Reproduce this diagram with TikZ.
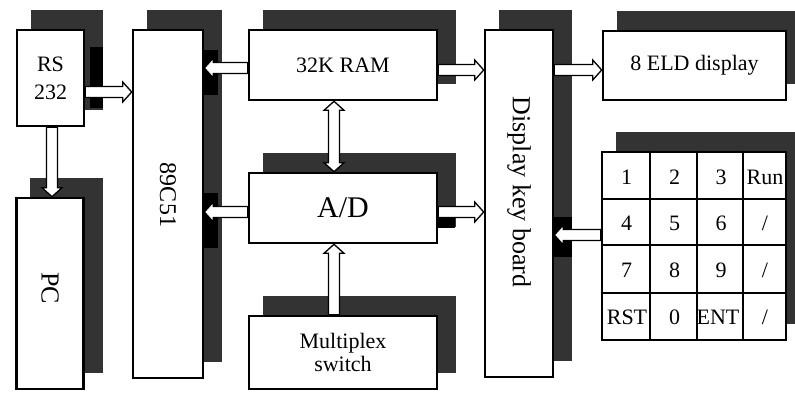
\documentclass[tikz,border=0pt]{standalone}
\usepackage{fontspec}
\setmainfont{Liberation Serif}
\usetikzlibrary{calc}
\definecolor{shadowgray}{HTML}{333333}
\pgfdeclarelayer{shad}
\pgfdeclarelayer{mid}
\pgfsetlayers{shad,mid,main}
\newcommand\blkarrow[2]{%
  \path (#1) coordinate (baA) (#2) coordinate (baB);
  \path ($(baB)!9pt!(baA)$) coordinate (baC);
  \draw[blockarrow] ($(baA)!5.5pt!90:(baB)$) -- ($(baC)!5.5pt!-90:(baA)$) -- ($(baC)!10pt!-90:(baA)$) -- (baB)
    -- ($(baC)!10pt!90:(baA)$) -- ($(baC)!5.5pt!90:(baA)$) -- ($(baA)!5.5pt!-90:(baB)$) -- cycle;}
\newcommand\blkarrowboth[2]{%
  \path (#1) coordinate (baA) (#2) coordinate (baB);
  \path ($(baB)!9pt!(baA)$) coordinate (baC) ($(baA)!9pt!(baB)$) coordinate (baD);
  \draw[blockarrow] (baA) -- ($(baD)!10pt!90:(baB)$) -- ($(baD)!5.5pt!90:(baB)$) -- ($(baC)!5.5pt!-90:(baA)$)
    -- ($(baC)!10pt!-90:(baA)$) -- (baB) -- ($(baC)!10pt!90:(baA)$) -- ($(baC)!5.5pt!90:(baA)$)
    -- ($(baD)!5.5pt!-90:(baB)$) -- ($(baD)!10pt!-90:(baB)$) -- cycle;}
\begin{document}
\begin{tikzpicture}[x=1pt,y=-1pt,
  font=\fontsize{22}{26}\selectfont,
  box/.style={draw, fill=white, line width=2.6pt, inner sep=0pt, align=center},
  blockarrow/.style={draw, fill=white, line width=1.3pt, line join=miter},
  keyline/.style={line width=2.2pt},
  keytext/.style={inner sep=0pt, font=\fontsize{22}{26}\selectfont}]
\useasboundingbox (0,0) rectangle (795,393);

% boxes
\node[box, minimum width=67pt, minimum height=96pt, font=\fontsize{22}{28}\selectfont] (rs) at (50.5,78) {RS\\232};
\node[box, minimum width=67pt, minimum height=191pt] (pc) at (50,293.5) {};
\node[rotate=-90, font=\fontsize{26}{30}\selectfont] (pct) at (50,288) {PC};
\node[box, minimum width=70pt, minimum height=348pt] (cpu) at (168,204) {};
\node[rotate=-90, font=\fontsize{24}{28}\selectfont] (cput) at (168,195) {89C51};
\node[box, minimum width=188pt, minimum height=70pt] (ram) at (343,65) {32K RAM};
\node[box, minimum width=188pt, minimum height=70pt, font=\fontsize{30}{34}\selectfont] (ad) at (343,208) {A/D};
\node[box, minimum width=188pt, minimum height=73pt, font=\fontsize{22}{23}\selectfont] (mux) at (343,352.5) {Multiplex\\switch};
\node[box, minimum width=68pt, minimum height=347pt] (dkb) at (519,203.5) {};
\node[rotate=-90, font=\fontsize{26}{30}\selectfont] (dkbt) at (519,192) {Display key board};
\node[box, minimum width=183pt, minimum height=69pt] (eld) at (694.5,65.5) {8 ELD display};
\node[box, minimum width=184pt, minimum height=188pt] (keys) at (694,246) {};

% keypad grid
\foreach \dx in {49,96,142}
  \draw[keyline] ($(keys.north west)+(\dx,0)$) -- ($(keys.south west)+(\dx,0)$);
\foreach \dy in {48,94,142}
  \draw[keyline] ($(keys.north west)+(0,\dy)$) -- ($(keys.north east)+(0,\dy)$);
\node[keytext] (k1) at (626.5,177) {1};
\node[keytext] (k2) at (674.5,177) {2};
\node[keytext] (k3) at (721,177) {3};
\node[keytext] (k4) at (765,177) {Run};
\node[keytext] (k5) at (626.5,223) {4};
\node[keytext] (k6) at (674.5,223) {5};
\node[keytext] (k7) at (721,223) {6};
\node[keytext] (k8) at (765,223) {/};
\node[keytext] (k9) at (626.5,270) {7};
\node[keytext] (k10) at (674.5,270) {8};
\node[keytext] (k11) at (721,270) {9};
\node[keytext] (k12) at (765,270) {/};
\node[keytext] (k13) at (627,317) {RST};
\node[keytext] (k14) at (674.5,317) {0};
\node[keytext] (k15) at (718,317) {ENT};
\node[keytext] (k16) at (765,317) {/};

% shadows
\begin{pgfonlayer}{shad}
  \foreach \n in {rs,pc,cpu,ram,ad,mux,dkb,eld,keys}
    \fill[shadowgray] ($(\n.south west)+(15,-17)$) rectangle ($(\n.north east)+(18,-19)$);
  \fill[black] (90,47) rectangle (103,108);
  \fill[black] (203,50) rectangle (218,95);
  \fill[black] (203,193) rectangle (218,248);
  \fill[black] (553,217) rectangle (572,257);
  \fill[black] (437,218) rectangle (455,228);
\end{pgfonlayer}

% arrows
\coordinate (yA) at (0,92);
\coordinate (yB) at (0,68);
\coordinate (yC) at (0,70);
\coordinate (xD) at (334,0);
\coordinate (yE) at (0,212);
\coordinate (yF) at (0,235);
\coordinate (xG) at (52,0);
\begin{pgfonlayer}{mid}
  \blkarrow{rs.east |- yA}{cpu.west |- yA}
  \blkarrow{ram.west |- yB}{cpu.east |- yB}
  \blkarrow{ram.east |- yC}{dkb.west |- yC}
  \blkarrow{dkb.east |- yC}{eld.west |- yC}
  \blkarrowboth{ram.south -| xD}{ad.north -| xD}
  \blkarrow{mux.north -| xD}{ad.south -| xD}
  \blkarrow{ad.west |- yE}{cpu.east |- yE}
  \blkarrow{ad.east |- yE}{dkb.west |- yE}
  \blkarrow{keys.west |- yF}{dkb.east |- yF}
  \blkarrow{rs.south -| xG}{pc.north -| xG}
\end{pgfonlayer}
\end{tikzpicture}
\end{document}
